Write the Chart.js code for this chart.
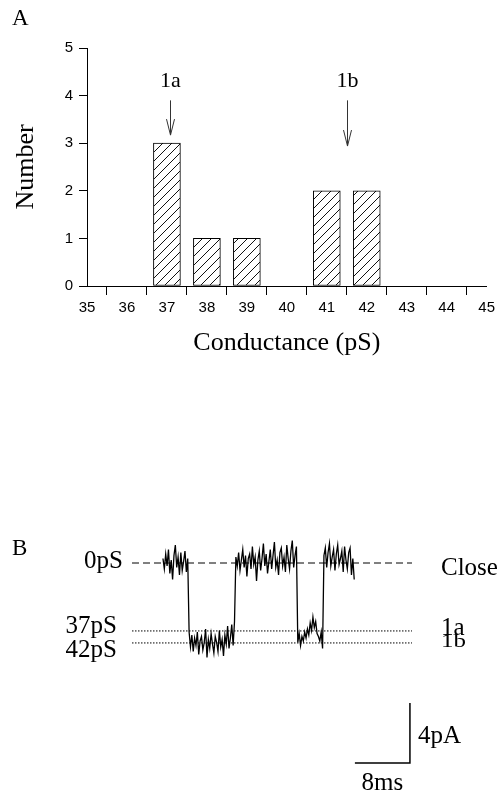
<!DOCTYPE html>
<html lang="en">
<head>
<meta charset="UTF-8" />
<title>Conductance histogram and single channel trace</title>
<script src="https://cdn.jsdelivr.net/npm/chart.js@4.4.1/dist/chart.umd.min.js"></script>
<style>
  body { margin: 0; background: #fff; }
  #wrap { position: relative; width: 499px; height: 794px; }
  #histA { position: absolute; left: 0; top: 0; }
  #traceB { position: absolute; left: 0; top: 480px; }
</style>
</head>
<body>
<div id="wrap">
  <canvas id="histA" width="499" height="380"></canvas>
  <canvas id="traceB" width="499" height="314"></canvas>
</div>

<script>
// ---- panel A data ----
const conductance = [37, 38, 39, 41, 42];
const counts = [3, 1, 1, 2, 2];
const conductanceTicks = [35, 36, 37, 38, 39, 40, 41, 42, 43, 44, 45];
const countTicks = [0, 1, 2, 3, 4, 5];
const markerLabels = ['1a', '1b'];
const markerAt = [37.07, 41.5];
const markerTip = [3.17, 2.94];

// ---- panel B data ----
const sampleStart = 4.5;   // ms
const sampleStep = 0.2;    // ms
const current = [          // pA, closed level = 0
  // closed
  0.3, -0.4, 0.6, -0.2, 0.9, -0.7, 0.2, -1.1, 0.5, 1.2, -0.3, 0.4, -0.8, 0.7, -0.5, 0.1, 0.8, -0.6, 0.3,
  -4.6,
  // open (1b)
  -5.6, -4.8, -5.9, -5.0, -5.5, -4.6, -6.1, -5.2, -4.9, -5.8, -5.3, -4.4, -6.3, -5.1, -5.7, -4.7, -5.4,
  -6.0, -4.9, -5.3, -5.9, -4.5, -5.6, -5.1, -6.2, -4.8, -5.4, -4.2, -5.7, -5.0, -4.1, -5.5, -3.9,
  // closed
  0.4, -0.2, 0.7, -0.5, 0.2, 0.9, -0.3, 0.5, -0.9, 0.3, 0.6, -0.4, 1.1, -0.1, 0.4, -1.2, 0.2, 0.8, -0.5,
  0.3, 1.3, -0.2, 0.6, -0.7, 0.1, 0.9, -0.4, 0.5, 1.4, -0.3, 0.2, -0.8, 0.7, 1.0, -0.2, 0.4, -0.6, 1.2,
  0.3, -0.4, 0.8, 1.5, -0.3, 0.5, 1.1,
  // open (1a)
  -5.3, -4.7, -5.5, -4.9, -5.2, -4.6, -5.0, -4.4, -4.8, -4.0, -4.5, -3.6, -4.3, -3.9, -4.7, -4.9, -5.2, -4.6, -5.7,
  // closed
  0.5, 1.0, -0.3, 0.7, 1.3, -0.2, 0.4, 0.9, -0.5, 0.6, 1.2, -0.1, 0.3, 0.8, -0.6, 1.1, 0.2, -0.4, 0.7,
  1.0, -0.8, 0.3, -1.1
];
const levelNames = ['0pS', '37pS', '42pS'];
const levelStates = ['Close', '1a', '1b'];
const levelCurrent = [0, -4.53, -5.33];
const traceEnd = 40.7;     // ms, end of reference lines
const barTime = 8;         // ms
const barCurrent = 4;      // pA

const serif = '"Liberation Serif", "Times New Roman", serif';
const sans = '"Liberation Sans", Arial, sans-serif';

// hatch fill for the histogram bars
function hatch() {
  const c = document.createElement('canvas');
  c.width = 9; c.height = 9;
  const g = c.getContext('2d');
  g.fillStyle = '#fff';
  g.fillRect(0, 0, 9, 9);
  g.strokeStyle = '#111';
  g.lineWidth = 1;
  g.beginPath();
  g.moveTo(0, 9); g.lineTo(9, 0);
  g.moveTo(-1, 1); g.lineTo(1, -1);
  g.moveTo(8, 10); g.lineTo(10, 8);
  g.stroke();
  return g.createPattern(c, 'repeat');
}

const markers = {
  id: 'markers',
  afterDraw(chart) {
    const { ctx, scales: { x, y } } = chart;
    ctx.save();
    ctx.fillStyle = '#000';
    ctx.textBaseline = 'alphabetic';
    ctx.font = '23px ' + serif;
    ctx.textAlign = 'left';
    ctx.fillText('A', 12, 25);
    ctx.font = '22px ' + serif;
    ctx.textAlign = 'center';
    ctx.strokeStyle = '#333';
    ctx.lineWidth = 1;
    markerLabels.forEach((lab, i) => {
      const px = Math.round(x.getPixelForValue(markerAt[i])) + 0.5;
      const tip = y.getPixelForValue(markerTip[i]);
      const top = y.getPixelForValue(3.9);
      ctx.fillText(lab, px, y.getPixelForValue(4.18));
      ctx.beginPath();
      ctx.moveTo(px, top); ctx.lineTo(px, tip);
      ctx.moveTo(px - 4, tip - 16); ctx.lineTo(px, tip); ctx.lineTo(px + 4, tip - 16);
      ctx.stroke();
    });
    ctx.restore();
  }
};

new Chart(document.getElementById('histA'), {
  type: 'bar',
  data: {
    datasets: [{
      data: conductance.map((c, i) => ({ x: c, y: counts[i] })),
      backgroundColor: hatch(),
      borderColor: '#000',
      borderWidth: 1,
      borderSkipped: false,
      barThickness: 27
    }]
  },
  options: {
    responsive: false,
    animation: false,
    layout: { padding: { left: 0, right: 12, top: 48, bottom: 0 } },
    plugins: { legend: { display: false }, tooltip: { enabled: false } },
    scales: {
      x: {
        type: 'linear',
        min: conductanceTicks[0],
        max: conductanceTicks[conductanceTicks.length - 1],
        offset: false,
        afterBuildTicks: (s) => {
          const t = [];
          conductanceTicks.forEach((v, i) => {
            t.push({ value: v });
            if (i < conductanceTicks.length - 1) t.push({ value: v + 0.5 });
          });
          s.ticks = t;
        },
        afterFit: (s) => { s.height = 94; },
        border: { color: '#000', width: 1 },
        grid: {
          offset: false,
          drawOnChartArea: false,
          tickLength: 9,
          tickColor: (c) => (c.tick && c.tick.value % 1 !== 0 ? '#000' : 'rgba(0,0,0,0)')
        },
        ticks: {
          autoSkip: false,
          maxRotation: 0,
          padding: 4,
          color: '#000',
          font: { family: sans, size: 15 },
          callback: (v) => (Number.isInteger(v) ? String(v) : '')
        },
        title: {
          display: true,
          text: 'Conductance (pS)',
          color: '#000',
          font: { family: serif, size: 26 },
          padding: { top: 0, bottom: 21 }
        }
      },
      y: {
        min: countTicks[0],
        max: countTicks[countTicks.length - 1],
        afterBuildTicks: (s) => { s.ticks = countTicks.map(v => ({ value: v })); },
        afterFit: (s) => { s.width = 87; },
        border: { color: '#000', width: 1 },
        grid: { drawOnChartArea: false, tickLength: 8, tickColor: '#000' },
        ticks: { padding: 6, color: '#000', font: { family: sans, size: 15 } },
        title: {
          display: true,
          text: 'Number',
          color: '#000',
          font: { family: serif, size: 26 },
          padding: { top: 11, bottom: 0 }
        }
      }
    }
  },
  plugins: [markers]
});

// ---- panel B ----
const traceLabels = {
  id: 'traceLabels',
  afterDraw(chart) {
    const { ctx, scales: { x, y } } = chart;
    const left = x.getPixelForValue(0);
    const right = x.getPixelForValue(traceEnd);
    ctx.save();
    ctx.fillStyle = '#000';
    ctx.textBaseline = 'alphabetic';
    ctx.font = '23px ' + serif;
    ctx.textAlign = 'left';
    ctx.fillText('B', 12, 75);
    ctx.font = '25px ' + serif;
    const leftGap = [9, 15, 15];
    const leftBase = [5, 2, 14];
    const rightBase = [12, 4, 4];
    const squash = [1, 1, 0.78]; // the lower state label is printed flattened
    levelNames.forEach((n, i) => {
      const py = y.getPixelForValue(levelCurrent[i]);
      ctx.textAlign = 'right';
      ctx.fillText(n, left - leftGap[i], py + leftBase[i]);
      ctx.save();
      ctx.translate(right + 29, py + rightBase[i]);
      ctx.scale(1, squash[i]);
      ctx.textAlign = 'left';
      ctx.fillText(levelStates[i], 0, 0);
      ctx.restore();
    });
    const bx = x.getPixelForValue(traceEnd - 0.3);
    const by = y.getPixelForValue(-13.33);
    ctx.textAlign = 'left';
    ctx.fillText(barCurrent + 'pA', bx + 8, by - 20);
    ctx.textAlign = 'center';
    ctx.fillText(barTime + 'ms', x.getPixelForValue(traceEnd - 0.3 - barTime / 2), by + 27);
    ctx.restore();
  }
};

const traceData = current.map((v, i) => ({ x: sampleStart + i * sampleStep, y: v }));
const levelLine = (v) => [{ x: 0, y: v }, { x: traceEnd, y: v }];
const barEnd = traceEnd - 0.3;

new Chart(document.getElementById('traceB'), {
  type: 'line',
  data: {
    datasets: [
      { data: traceData, borderColor: '#000', borderWidth: 1.3, pointRadius: 0, tension: 0 },
      { data: levelLine(levelCurrent[0]), borderColor: '#000', borderWidth: 1, borderDash: [7, 4], pointRadius: 0 },
      { data: levelLine(levelCurrent[1]), borderColor: '#000', borderWidth: 1, borderDash: [1.5, 1.5], pointRadius: 0 },
      { data: levelLine(levelCurrent[2]), borderColor: '#000', borderWidth: 1, borderDash: [1.5, 1.5], pointRadius: 0 },
      {
        data: [
          { x: barEnd - barTime, y: -13.33 },
          { x: barEnd, y: -13.33 },
          { x: barEnd, y: -13.33 + barCurrent }
        ],
        borderColor: '#000', borderWidth: 1.5, pointRadius: 0
      }
    ]
  },
  options: {
    responsive: false,
    animation: false,
    layout: { padding: { left: 132, right: 87, top: 23, bottom: 21 } },
    plugins: { legend: { display: false }, tooltip: { enabled: false } },
    scales: {
      x: { type: 'linear', min: 0, max: traceEnd, display: false },
      y: { min: -14, max: 4, display: false }
    }
  },
  plugins: [traceLabels]
});
</script>
</body>
</html>
